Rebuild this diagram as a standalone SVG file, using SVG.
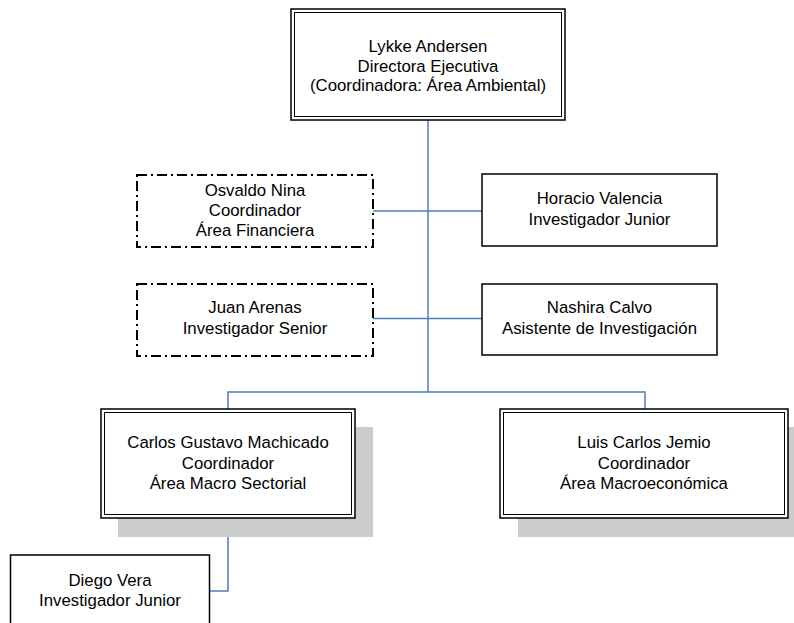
<svg xmlns="http://www.w3.org/2000/svg" width="794" height="623" viewBox="0 0 794 623">
<style>
text{font-family:"Liberation Sans",Arial,sans-serif;font-size:16.8px;fill:#000;text-anchor:middle}
.solid{fill:#fff;stroke:#000;stroke-width:1.5}
.inner{fill:none;stroke:#000;stroke-width:1}
.dash{fill:#fff;stroke:#000;stroke-width:2;stroke-dasharray:10 4 2 4}
.shadow{fill:#cccccc;stroke:none}
.conn{fill:none;stroke:#4a7ebb;stroke-width:1.5}
</style>
<g id="connectors">
<path class="conn" d="M428,120 V392"/>
<path class="conn" d="M373,211 H482"/>
<path class="conn" d="M373,318.5 H482"/>
<path class="conn" d="M228,409 V392 H645 V409"/>
<path class="conn" d="M228,518 V591 H210"/>
</g>
<g id="n-lykke">
<rect class="solid" x="291" y="9" width="274" height="111"/>
<rect class="inner" x="294.5" y="12.5" width="267" height="104"/>
<text x="428" y="52">Lykke Andersen</text>
<text x="428" y="71.5">Directora Ejecutiva</text>
<text x="428" y="91">(Coordinadora: Área Ambiental)</text>
</g>
<g id="n-osvaldo">
<rect class="dash" x="137" y="175" width="236" height="72"/>
<text x="255" y="195.5">Osvaldo Nina</text>
<text x="255" y="215.5">Coordinador</text>
<text x="255" y="235.5">Área Financiera</text>
</g>
<g id="n-horacio">
<rect class="solid" x="482" y="174" width="235" height="72"/>
<text x="599.5" y="204">Horacio Valencia</text>
<text x="599.5" y="225">Investigador Junior</text>
</g>
<g id="n-juan">
<rect class="dash" x="137" y="284" width="236" height="72"/>
<text x="255" y="313">Juan Arenas</text>
<text x="255" y="334">Investigador Senior</text>
</g>
<g id="n-nashira">
<rect class="solid" x="482" y="284" width="235" height="71"/>
<text x="599.5" y="313">Nashira Calvo</text>
<text x="599.5" y="333.5">Asistente de Investigación</text>
</g>
<g id="n-carlos">
<rect class="shadow" x="118" y="427" width="255" height="110"/>
<rect class="solid" x="101" y="409" width="254" height="109"/>
<rect class="inner" x="104.5" y="412.5" width="247" height="102"/>
<text x="228" y="448">Carlos Gustavo Machicado</text>
<text x="228" y="468.5">Coordinador</text>
<text x="228" y="489">Área Macro Sectorial</text>
</g>
<g id="n-luis">
<rect class="shadow" x="518" y="427" width="290" height="110"/>
<rect class="solid" x="500" y="409" width="288" height="109"/>
<rect class="inner" x="503.5" y="412.5" width="281" height="102"/>
<text x="644" y="448">Luis Carlos Jemio</text>
<text x="644" y="468.5">Coordinador</text>
<text x="644" y="489">Área Macroeconómica</text>
</g>
<g id="n-diego">
<rect class="solid" x="10.5" y="555" width="199" height="80"/>
<text x="110" y="586">Diego Vera</text>
<text x="110" y="606">Investigador Junior</text>
</g>
</svg>
